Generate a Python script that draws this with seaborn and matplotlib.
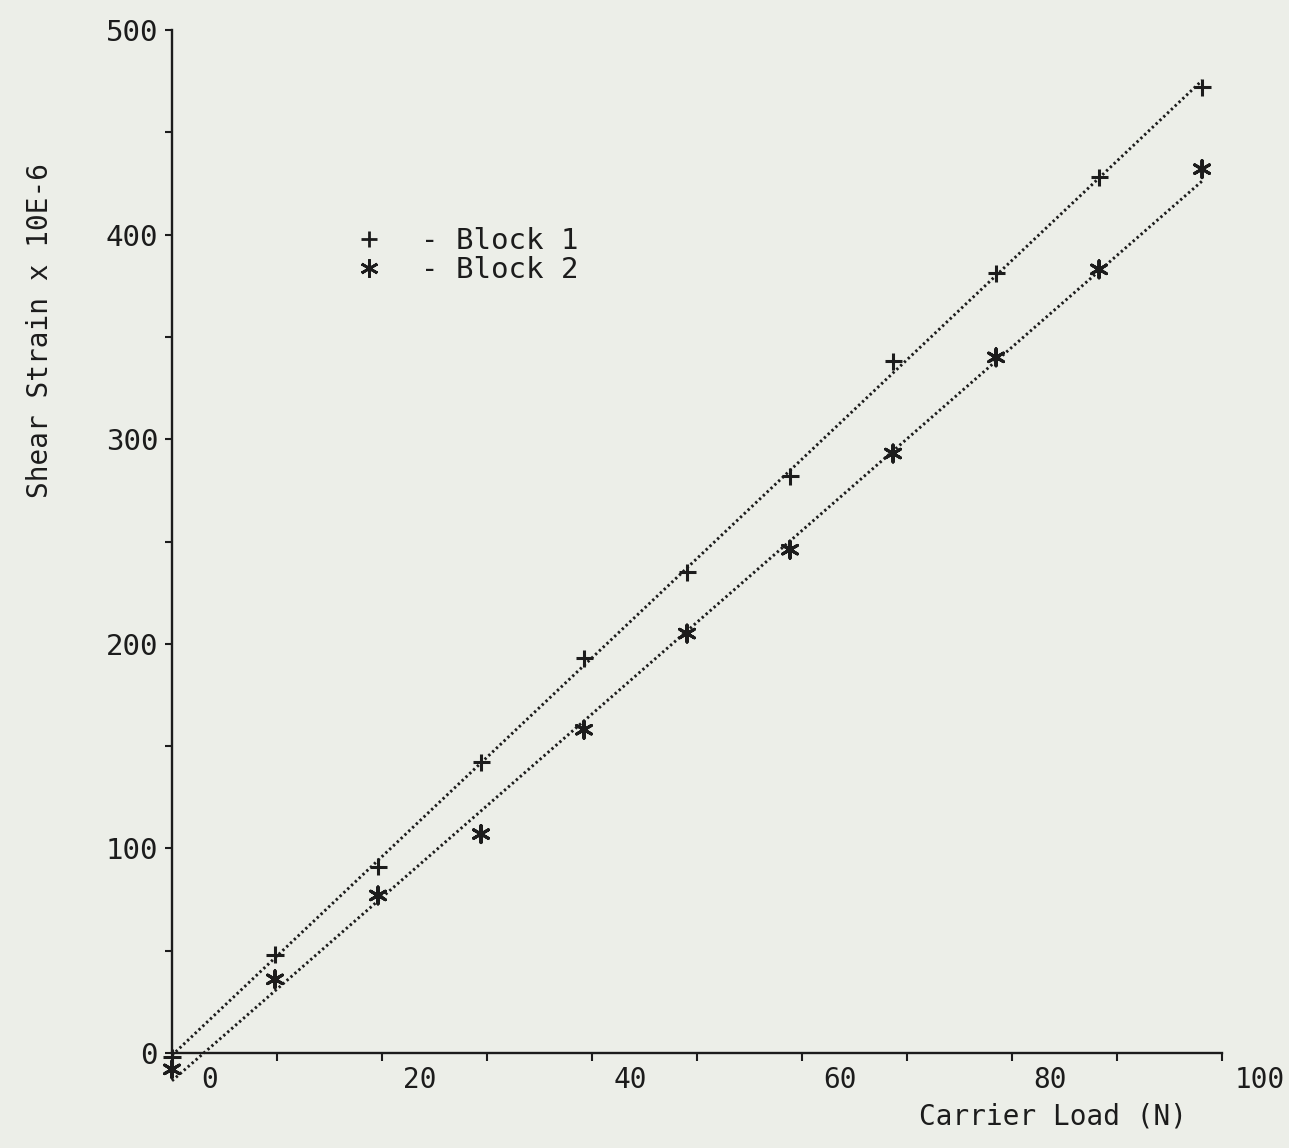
import numpy as np
import pandas as pd
import matplotlib
matplotlib.use("Agg")
import matplotlib.pyplot as plt
import seaborn as sns
from matplotlib.lines import Line2D
from matplotlib.transforms import ScaledTranslation

# ---- data ----
load_n = [0, 9.81, 19.62, 29.43, 39.24, 49.05, 58.86, 68.67, 78.48, 88.29, 98.1]
block1 = [-2, 48, 91, 142, 193, 235, 282, 338, 381, 428, 472]
block2 = [-8, 36, 77, 107, 158, 205, 246, 293, 340, 383, 432]
series_names = ["Block 1", "Block 2"]
x_ticks = list(range(0, 101, 10))
x_tick_labels = ["0", "", "20", "", "40", "", "60", "", "80", "", "100"]
y_ticks = list(range(0, 501, 50))
y_tick_labels = ["0", "", "100", "", "200", "", "300", "", "400", "", "500"]
x_title = "Carrier Load (N)"
y_title = "Shear Strain x 10E-6"

sns.set_style("ticks")
plt.rcParams["font.family"] = ["DejaVu Sans Mono", "DejaVu Sans"]

BG = "#eceee8"
INK = "#1c1c1c"

fig = plt.figure(figsize=(12.89, 11.48), dpi=100, facecolor=BG)
ax = fig.add_axes([172 / 1289, 95 / 1148, 1050 / 1289, 1023 / 1148])
ax.set_facecolor(BG)

df = pd.DataFrame({
    "load": load_n * 2,
    "strain": block1 + block2,
    "block": [series_names[0]] * len(load_n) + [series_names[1]] * len(load_n),
})

line_kws = dict(color=INK, lw=2.1, ls=(0, (0.8, 1.0)), clip_on=False)
sns.regplot(x=load_n, y=block1, ci=None, scatter=False, ax=ax, line_kws=line_kws)
sns.regplot(x=load_n, y=block2, ci=None, scatter=False, ax=ax, line_kws=line_kws)

markers = {series_names[0]: "+", series_names[1]: (6, 2, 0)}
sns.scatterplot(data=df, x="load", y="strain", style="block", markers=markers,
                color=INK, s=150, linewidth=2.2, legend=False, ax=ax,
                clip_on=False, zorder=3)

ax.set_xlim(0, 100)
ax.set_ylim(0, 500)
for side in ("top", "right"):
    ax.spines[side].set_visible(False)
for side in ("left", "bottom"):
    ax.spines[side].set_linewidth(1.7)
    ax.spines[side].set_color(INK)

ax.set_xticks(x_ticks)
ax.set_xticklabels(x_tick_labels)
ax.set_yticks(y_ticks)
ax.set_yticklabels(y_tick_labels)
ax.tick_params(axis="x", direction="out", length=6, width=1.5, pad=3,
               labelsize=20, colors=INK)
ax.tick_params(axis="y", direction="out", length=5, width=1.5, pad=5,
               labelsize=21, colors=INK)

shift = ScaledTranslation(0.38, 0, fig.dpi_scale_trans)
for tick in ax.xaxis.get_major_ticks():
    tick.label1.set_transform(tick.label1.get_transform() + shift)

ax.set_xlabel(x_title, fontsize=20, color=INK)
ax.xaxis.set_label_coords((1053 - 172) / 1050, (1053 - 1117) / 1023)
ax.xaxis.label.set_va("center")
ax.set_ylabel(y_title, fontsize=20, color=INK)
ax.yaxis.set_label_coords((40 - 172) / 1050, (1053 - 330) / 1023)
ax.yaxis.label.set_va("center")

handles = [
    Line2D([], [], marker="+", ls="none", color=INK, markersize=12, markeredgewidth=2.0),
    Line2D([], [], marker=(6, 2, 0), ls="none", color=INK, markersize=13, markeredgewidth=2.0),
]
leg = ax.legend(handles, ["- " + s for s in series_names], loc="upper left",
                bbox_to_anchor=(354 / 1289, 1 - 227 / 1148),
                bbox_transform=fig.transFigure, frameon=False,
                prop={"family": "DejaVu Sans Mono", "size": 21},
                handlelength=1.0, handletextpad=1.3, labelspacing=0.05,
                borderpad=0, borderaxespad=0)
for t in leg.get_texts():
    t.set_color(INK)

fig.savefig("out.png", dpi=100, facecolor=BG)
